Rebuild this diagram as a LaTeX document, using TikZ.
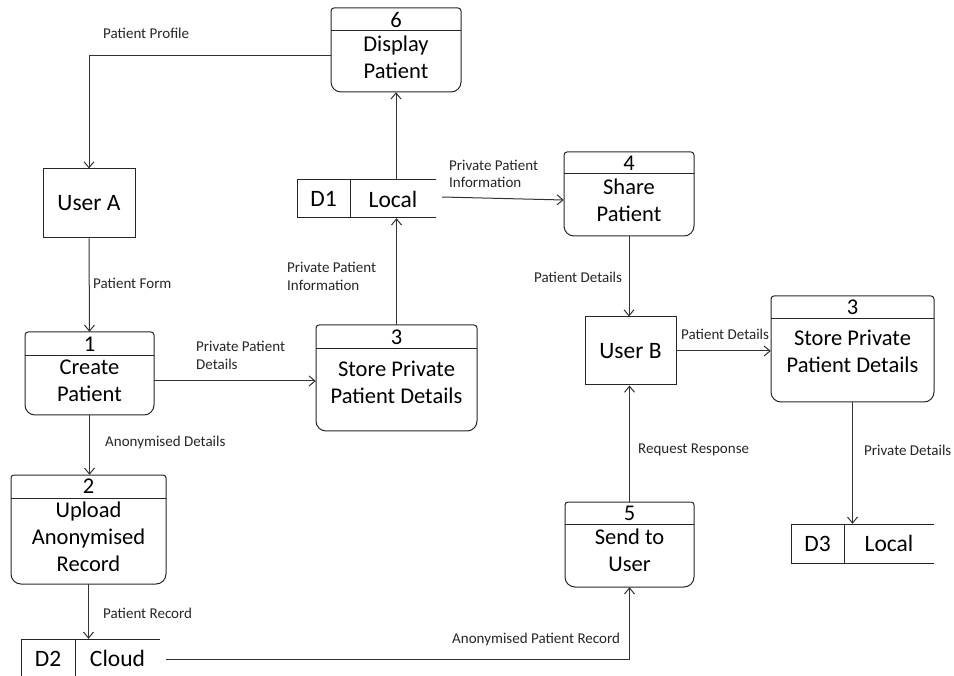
\documentclass[tikz,border=0pt]{standalone}
\usepackage{fontspec}
\setmainfont{Carlito}
\usetikzlibrary{arrows.meta,fit}

% process box: name, x1, y1, x2, y2, header line y, number, text centre y, text
\newcommand\procbox[9]{%
  \path (#2,#3) coordinate (#1-nw) (#4,#5) coordinate (#1-se);
  \node[fit=(#1-nw)(#1-se), inner sep=0pt] (#1) {};
  \draw[box, rounded corners=3pt] (#2,#6) -- (#2,#3) -- (#4,#3) -- (#4,#6);
  \draw[box, rounded corners=10pt] (#2,#6) -- (#2,#5) -- (#4,#5) -- (#4,#6);
  \draw[box] (#2,#6) -- (#4,#6);
  \node[proctext] (#1-num) at ({(#2+#4)/2},{(#3+#6)/2}) {#7};
  \node[proctext] (#1-txt) at ({(#2+#4)/2},#8) {#9};
}
% data store open on the right: name, x1, y1, x2, y2, divider x, id, label
\newcommand\datastore[8]{%
  \path (#2,#3) coordinate (#1-nw) (#4,#5) coordinate (#1-se);
  \node[fit=(#1-nw)(#1-se), inner sep=0pt] (#1) {};
  \draw[box] (#4,#3) -- (#2,#3) -- (#2,#5) -- (#4,#5);
  \draw[box] (#6,#3) -- (#6,#5);
  \node[enttext] (#1-id) at ({(#2+#6)/2},{(#3+#5)/2}) {#7};
  \node[enttext] (#1-name) at ({(#6+#4)/2},{(#3+#5)/2}) {#8};
}

\tikzset{
  box/.style={line width=1pt, draw=black!85},
  proctext/.style={inner sep=0pt, align=center, font=\fontsize{22.5}{27}\selectfont},
  enttext/.style={inner sep=0pt, font=\fontsize{23.5}{28}\selectfont},
  entity/.style={box, draw, inner sep=0pt, font=\fontsize{23.5}{28}\selectfont},
  flow/.style={line width=1pt, draw=black!80, -{Straight Barb[length=6pt,width=10pt]}},
  lbl/.style={anchor=west, inner sep=0pt, align=left, text=black!85,
    font=\fontsize{15}{17.5}\selectfont},
}

\begin{document}
\begin{tikzpicture}[x=1pt, y=-1pt]
\useasboundingbox (0,0) rectangle (954,676);
\clip (0,0) rectangle (954,676);

% processes
\procbox{p6}{331}{8}{461}{92}{31}{6}{57}{Display\\Patient}
\procbox{p4}{564}{152}{694}{236}{174}{4}{200}{Share\\Patient}
\procbox{p1}{25}{332}{154}{415}{356}{1}{381}{Create\\Patient}
\procbox{p3a}{316}{325}{477}{431}{349}{3}{382}{Store Private\\Patient Details}
\procbox{p3b}{771}{296}{934}{402}{319}{3}{351}{Store Private\\Patient Details}
\procbox{p2}{11}{475}{166}{584}{498}{2}{537}{Upload\\Anonymised\\Record}
\procbox{p5}{565}{502}{694}{587}{524}{5}{550}{Send to\\User}

% external entities
\node[entity, minimum width=92pt, minimum height=69pt] (ua) at (89,203.5) {User A};
\node[entity, minimum width=91pt, minimum height=68pt] (ub) at (630.5,351) {User B};

% data stores
\datastore{d1}{297}{180}{436}{218}{350}{D1}{Local}
\datastore{d3}{791}{524}{934}{563}{844}{D3}{Local}
\datastore{d2}{21}{639}{160}{678}{75}{D2}{Cloud}

% data flows
\draw[flow] ([yshift=-6pt]p6.west) -| (ua.north);
\draw[flow] (ua.south) -- (p1.north);
\draw[flow] (p1.east |- 0,381) -- (p3a.west |- 0,381);
\draw[flow] (p3a.north) -- (p3a.north |- d1.south);
\draw[flow] (p6.south |- d1.north) -- (p6.south);
\coordinate (d1out) at (442,197);
\draw[flow] (d1out) -- (p4.west |- 0,200);
\draw[flow] (p4.south) -- (p4.south |- ub.north);
\draw[flow] (ub.east) -- (ub.east -| p3b.west);
\draw[flow] (p3b.south) -- (p3b.south |- d3.north);
\draw[flow] (p5.north) -- (p5.north |- ub.south);
\draw[flow] (p1.south) -- (p1.south |- p2.north);
\draw[flow] (p2.south) -- (p2.south |- d2.north);
\coordinate (d2out) at (166,659);
\draw[flow] (d2out) -| (p5.south);

% flow labels
\node[lbl] (l-profile) at (103,33) {Patient Profile};
\node[lbl] (l-form) at (93,283) {Patient Form};
\node[lbl] (l-ppd) at (196,355.5) {Private Patient\\Details};
\node[lbl] (l-ppi1) at (287,276.5) {Private Patient\\Information};
\node[lbl] (l-ppi2) at (449,174) {Private Patient\\Information};
\node[lbl] (l-pd1) at (534,277) {Patient Details};
\node[lbl] (l-pd2) at (681,334) {Patient Details};
\node[lbl] (l-priv) at (864,450) {Private Details};
\node[lbl] (l-req) at (638,450) {Request Response};
\node[lbl] (l-anon) at (105,443) {Anonymised Details};
\node[lbl] (l-rec) at (103,613) {Patient Record};
\node[lbl] (l-anrec) at (452,639) {Anonymised Patient Record};
\end{tikzpicture}
\end{document}
